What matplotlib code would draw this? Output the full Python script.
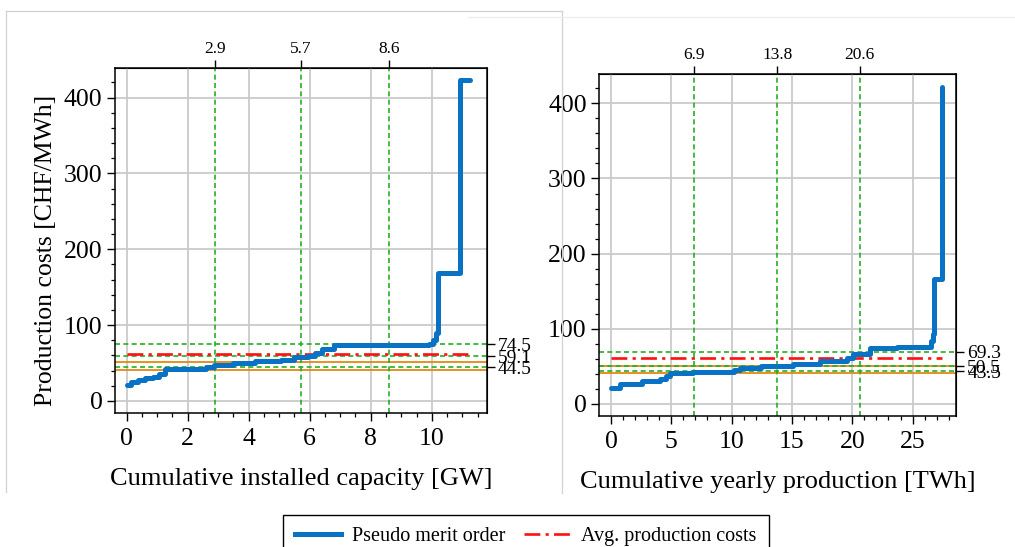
import matplotlib
matplotlib.use("Agg")
import matplotlib.pyplot as plt
from matplotlib.lines import Line2D
from matplotlib.ticker import MultipleLocator

plt.rcParams["font.family"] = ["Liberation Serif", "DejaVu Serif"]

# Pseudo merit order: cumulative capacity (GW) vs production cost (CHF/MWh)
cap_gw = [0, 0.16, 0.38, 0.6, 0.87, 1.05, 1.27, 2.6, 2.86, 3.5, 4.2, 5.06, 5.5,
          5.96, 6.17, 6.4, 6.8, 8.8, 9.9, 10.05, 10.15, 10.2, 10.92, 11.25]
cost_cap = [21, 25, 27, 30, 32, 36, 42, 44, 47, 49.5, 52, 54, 57.5,
            59.5, 62.5, 68, 73.5, 74, 75, 80, 90, 168, 423, 423]

# Pseudo merit order: cumulative yearly production (TWh) vs production cost
prod_twh = [0, 0.75, 2.6, 4.1, 4.6, 4.9, 6.8, 10.2, 10.7, 12.4, 15.1, 17.3, 19.6,
            20.1, 21.5, 23.7, 26.1, 26.5, 26.65, 26.75, 27.45]
cost_prod = [21, 27, 31, 33, 37.5, 41, 43, 45, 48.5, 51, 53, 57.5, 60.5,
             66.5, 74.5, 75.5, 76, 84, 93, 166, 422]

# Quartiles along x and y, average cost, reference price levels
cap_quartiles = [2.9, 5.7, 8.6]
cap_cost_quartiles = [74.5, 59.1, 44.5]
prod_quartiles = [6.9, 13.8, 20.6]
prod_cost_quartiles = [69.3, 50.5, 43.5]
avg_cost = 61.2
price_levels = [50.8, 41.3]

BLUE = "#0a72c4"
RED = "#ff1010"
GREEN = "#22b022"
ORANGE = "#e08a10"
GRID = "#cacaca"

fig = plt.figure(figsize=(10.15, 5.47), dpi=100)
ax1 = fig.add_axes([0.1133, 0.2450, 0.3665, 0.6307])
ax2 = fig.add_axes([0.5904, 0.2395, 0.3515, 0.6252])


def draw_panel(ax, x, y, xq, yq, xlim, xmajor, xminor, xlabel):
    ax.set_xlim(*xlim)
    ax.set_ylim(-16, 439)
    ax.xaxis.set_major_locator(MultipleLocator(xmajor))
    ax.xaxis.set_minor_locator(MultipleLocator(xminor))
    ax.yaxis.set_major_locator(MultipleLocator(100))
    ax.yaxis.set_minor_locator(MultipleLocator(20))
    ax.grid(True, which="major", color=GRID, lw=1.3, zorder=0)
    ax.set_axisbelow(True)
    for s in ax.spines.values():
        s.set_linewidth(1.1)
        s.set_color("black")
    ax.tick_params(which="major", direction="out", length=6, width=1.0,
                   labelsize=18.5, pad=3)
    ax.tick_params(which="minor", direction="out", length=3, width=0.9)
    ax.tick_params(axis="x", which="major", pad=5)

    for lvl in price_levels:
        ax.axhline(lvl, color=ORANGE, lw=1.3, zorder=2)
    for v in yq:
        ax.axhline(v, color=GREEN, lw=1.2, ls=(0, (3, 2)), zorder=2)
    for v in xq:
        ax.axvline(v, color=GREEN, lw=1.2, ls=(0, (3, 2)), zorder=2)
    ax.hlines(avg_cost, 0, x[-1], color=RED, lw=1.9,
              ls=(0, (6, 2, 1.2, 2)), zorder=3)
    ax.plot(x, y, drawstyle="steps-post", color=BLUE, lw=3.6,
            solid_joinstyle="round", solid_capstyle="round", zorder=4)

    top = ax.secondary_xaxis("top")
    top.set_ticks(xq, labels=[f"{v:.1f}" for v in xq])
    top.tick_params(direction="out", length=6, width=1.0, labelsize=12.5, pad=2)
    top.xaxis.set_minor_locator(plt.NullLocator())

    right = ax.secondary_yaxis("right")
    right.set_ticks(yq, labels=[f"{v:.1f}" for v in yq])
    right.tick_params(direction="out", length=6, width=1.0, labelsize=14, pad=2)
    right.yaxis.set_minor_locator(plt.NullLocator())

    ax.set_xlabel(xlabel, fontsize=19, labelpad=13)


draw_panel(ax1, cap_gw, cost_cap, cap_quartiles, cap_cost_quartiles,
           (-0.38, 11.81), 2, 0.5, "Cumulative installed capacity [GW]")
draw_panel(ax2, prod_twh, cost_prod, prod_quartiles, prod_cost_quartiles,
           (-0.97, 28.6), 5, 1, "Cumulative yearly production [TWh]")
ax1.set_ylabel("Production costs [CHF/MWh]", fontsize=18.5)
ax1.yaxis.set_label_coords(-0.157, 0.472)

# Shared legend under both panels
handles = [
    Line2D([], [], color=BLUE, lw=3.6),
    Line2D([], [], color=RED, lw=1.9, ls=(0, (6, 2, 1.2, 2))),
]
fig.legend(handles, ["Pseudo merit order", "Avg. production costs"],
           loc="upper center", bbox_to_anchor=(0.518, 1 - 515 / 547), ncol=2,
           fontsize=14.5, frameon=True, fancybox=False, edgecolor="black",
           framealpha=1, handlelength=2.3, columnspacing=0.9,
           borderpad=0.6, handletextpad=0.55, borderaxespad=0)

# Thin panel frames
fw, fh = 1015, 547
frame = dict(color="#d2d2d2", lw=0.9, transform=fig.transFigure)
fig.add_artist(Line2D([6 / fw, 562 / fw], [1 - 11 / fh, 1 - 11 / fh], **frame))
fig.add_artist(Line2D([6 / fw, 6 / fw], [1 - 11 / fh, 1 - 492 / fh], **frame))
fig.add_artist(Line2D([562 / fw, 562 / fw], [1 - 11 / fh, 1 - 493 / fh], **frame))
fig.add_artist(Line2D([468 / fw, 1.0], [1 - 17 / fh, 1 - 17 / fh],
                      color="#ececec", lw=0.9, transform=fig.transFigure))

fig.savefig("out.png", dpi=100)
